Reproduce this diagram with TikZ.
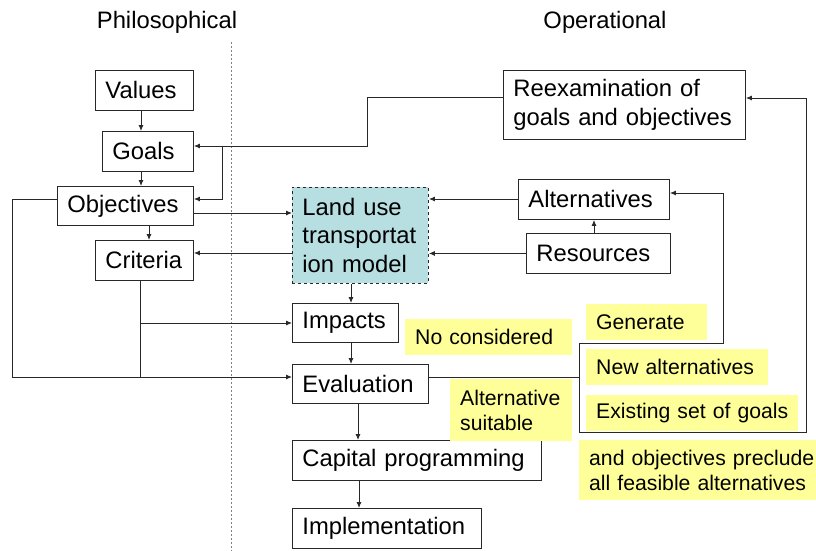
\documentclass[tikz,border=0pt]{standalone}
\usepackage{fontspec}
\setmainfont{Liberation Sans}
\usetikzlibrary{arrows.meta}

\definecolor{notefill}{RGB}{255,255,153}
\definecolor{modelfill}{RGB}{183,222,225}
\definecolor{linegray}{RGB}{40,40,40}

\tikzset{
  x=1pt, y=-1pt,
  box/.style={draw=linegray, line width=0.9pt, fill=white, anchor=north west,
    inner xsep=10pt, inner ysep=0pt, align=left,
    font=\fontsize{23.8}{28.6}\selectfont},
  note/.style={fill=notefill, anchor=north west, inner xsep=10pt, inner ysep=0pt,
    align=left, font=\fontsize{21.2}{25}\selectfont},
  head/.style={font=\fontsize{23.8}{28.6}\selectfont, inner sep=0pt},
  link/.style={draw=linegray, line width=0.9pt},
  arr/.style={link, -{Latex[length=6pt,width=5pt]}}
}

\begin{document}
\begin{tikzpicture}
\useasboundingbox (0,0) rectangle (816,551);

% column headings and divider
\node[head] (philo) at (167,22) {Philosophical};
\node[head] (oper) at (605,22) {Operational};
\draw[gray, line width=1pt, dash pattern=on 2pt off 2pt] (231.5,42) -- (231.5,551);

% philosophical column
\node[box, minimum width=98, text width=78, minimum height=40] (values) at (95,70) {Values};
\node[box, minimum width=91, text width=71, minimum height=40] (goals) at (102,131) {Goals};
\node[box, minimum width=136, text width=116, minimum height=39] (objectives) at (57,186) {Objectives};
\node[box, minimum width=98, text width=78, minimum height=40] (criteria) at (95,240) {Criteria};

% operational column
\node[box, minimum width=242, text width=222, minimum height=69] (reexam) at (503,70) {Reexamination of\\goals and objectives};
\node[box, minimum width=151, text width=131, minimum height=40] (alternatives) at (518,179) {Alternatives};
\node[box, minimum width=144, text width=124, minimum height=40] (resources) at (526,233) {Resources};
\node[box, dashed, fill=modelfill, minimum width=136, text width=116, minimum height=96] (landuse) at (292,187) {Land use\\transportat\\ion model};
\node[box, minimum width=106, text width=86, minimum height=39] (impacts) at (292,303) {Impacts};
\node[box, minimum width=136, text width=116, minimum height=39] (evaluation) at (292,364) {Evaluation};
\node[box, minimum width=249, text width=229, minimum height=40] (capital) at (292,440) {Capital programming};
\node[box, minimum width=189, text width=169, minimum height=40] (implementation) at (292,508) {Implementation};

% junction points of the feedback loops
\coordinate (reexamSplit) at (222,146);
\coordinate (critSplit) at (140,323);
\coordinate (critFoot) at (140,377);
\coordinate (fbTop) at (579,343);
\coordinate (fbBottom) at (579,432);

% vertical chain
\draw[arr] (141,0 |- values.south) -- (141,0 |- goals.north);
\draw[arr] (141,0 |- goals.south) -- (141,0 |- objectives.north);
\draw[arr] (149,0 |- objectives.south) -- (149,0 |- criteria.north);
\draw[arr] (351,0 |- landuse.south) -- (351,0 |- impacts.north);
\draw[arr] (351,0 |- impacts.south) -- (351,0 |- evaluation.north);
\draw[arr] (358,0 |- evaluation.south) -- (358,0 |- capital.north);
\draw[arr] (359,0 |- capital.south) -- (359,0 |- implementation.north);
\draw[arr] (594,0 |- resources.north) -- (594,0 |- alternatives.south);

% reexamination back to goals and objectives
\draw[arr] (reexam.west |- 0,97) -- (367,97) -- (367,146) -- (goals.east |- 0,146);
\draw[arr] (reexamSplit) -- (222,199) -- (objectives.east |- 0,199);

% model inputs and outputs
\draw[arr] (objectives.east |- 0,213) -- (landuse.west |- 0,213);
\draw[arr] (landuse.west |- 0,253) -- (criteria.east |- 0,253);
\draw[arr] (alternatives.west |- 0,199) -- (landuse.east |- 0,199);
\draw[arr] (resources.west) -- (landuse.east |- resources.west);

% criteria and objectives feeding impacts and evaluation
\draw[link] (140,0 |- criteria.south) -- (critFoot);
\draw[arr] (critSplit) -- (impacts.west |- critSplit);
\draw[arr] (objectives.west |- 0,199) -- (12,199) -- (12,377) -- (evaluation.west |- 0,377);

% evaluation feedback
\draw[link] (evaluation.east |- 0,377) -- (fbTop |- 0,377);
\draw[link] (fbTop) -- (fbBottom);
\draw[arr] (fbTop) -- (723,343) -- (723,193) -- (alternatives.east |- 0,193);
\draw[arr] (fbBottom) -- (806,432) -- (806,98) -- (reexam.east |- 0,98);

% annotations
\node[note, minimum width=167, minimum height=36, text width=147] (noconsidered) at (405,319) {No considered};
\node[note, minimum width=122, minimum height=62, text width=102] (altsuitable) at (450,379) {Alternative\\suitable};
\node[note, minimum width=121, minimum height=36, text width=101] (generate) at (586,304) {Generate};
\node[note, minimum width=182, minimum height=36, text width=162] (newalt) at (586,349) {New alternatives};
\node[note, minimum width=212, minimum height=36, text width=192] (existing) at (586,395) {\mbox{Existing set of goals}};
\node[note, minimum width=250, minimum height=60, text width=230] (preclude) at (579,440) {and objectives preclude\\all feasible alternatives};
\end{tikzpicture}
\end{document}
